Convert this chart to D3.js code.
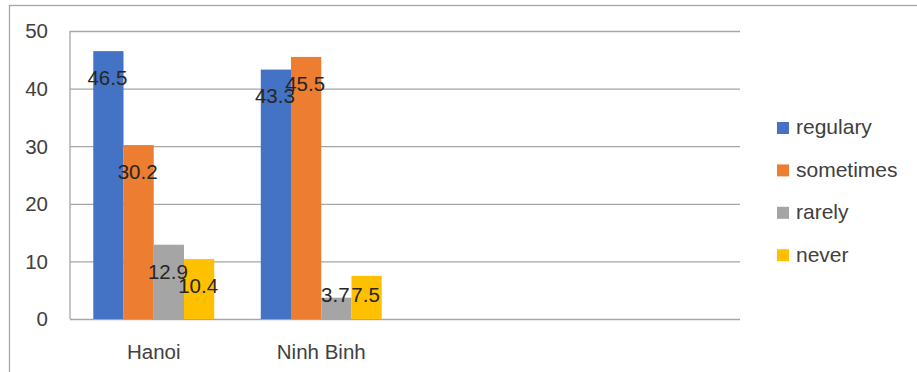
<!DOCTYPE html>
<html>
<head>
<meta charset="utf-8">
<script src="https://cdn.jsdelivr.net/npm/d3@7"></script>
<style>
  body { margin: 0; background: #fff; }
  svg { display: block; font-family: "Liberation Sans", Arial, sans-serif; }
</style>
</head>
<body>
<div id="chart"></div>
<script>
// data
var categories = ['Hanoi', 'Ninh Binh', '', ''];
var series = ['regulary', 'sometimes', 'rarely', 'never'];
var colors = ['#4472C4', '#ED7D31', '#A5A5A5', '#FFC000'];
var regulary = [46.5, 43.3, null, null];
var sometimes = [30.2, 45.5, null, null];
var rarely = [12.9, 3.7, null, null];
var never = [10.4, 7.5, null, null];
var yTicks = [0, 10, 20, 30, 40, 50];

var values = [regulary, sometimes, rarely, never];

var width = 917, height = 372;
var margin = {top: 31, left: 70, right: 177, bottom: 53};

var svg = d3.select('#chart').append('svg')
    .attr('width', width)
    .attr('height', height);

// chart frame, cut off at right and bottom like the screenshot
svg.append('rect')
    .attr('x', 9.5)
    .attr('y', 5.5)
    .attr('width', 930)
    .attr('height', 400)
    .attr('fill', 'none')
    .attr('stroke', '#a6a6a6')
    .attr('stroke-width', 1.3);

var x0 = d3.scaleBand()
    .domain(d3.range(categories.length))
    .range([margin.left, width - margin.right])
    .paddingInner(0)
    .paddingOuter(0);

var x1 = d3.scaleBand()
    .domain(d3.range(series.length))
    .range([0, x0.bandwidth()])
    .paddingInner(0)
    .paddingOuter(0.77);

var y = d3.scaleLinear()
    .domain([0, 50])
    .range([height - margin.bottom, margin.top]);

// gridlines
var grid = svg.append('g')
    .attr('transform', 'translate(' + margin.left + ',0)')
    .call(d3.axisLeft(y).tickValues(yTicks).tickSize(-(width - margin.right - margin.left)).tickFormat(''));
grid.select('.domain').remove();
grid.selectAll('line')
    .attr('stroke', '#a6a6a6')
    .attr('stroke-width', 1.3);

// y axis labels
svg.selectAll('.ylab')
    .data(yTicks)
    .enter().append('text')
        .attr('class', 'ylab')
        .attr('x', 48)
        .attr('y', d => y(d))
        .attr('dy', '0.36em')
        .attr('text-anchor', 'end')
        .attr('fill', '#404040')
        .style('font-size', '20.5px')
        .text(d => d);

// vertical axis line
svg.append('line')
    .attr('x1', margin.left)
    .attr('x2', margin.left)
    .attr('y1', y(50))
    .attr('y2', y(0))
    .attr('stroke', '#a6a6a6')
    .attr('stroke-width', 1.3);

// bars
var groups = svg.selectAll('.cat')
    .data(categories)
    .enter().append('g')
        .attr('class', 'cat')
        .attr('transform', (d, i) => 'translate(' + x0(i) + ',0)');

groups.each(function(c, ci) {
    var g = d3.select(this);
    var rows = series.map((s, si) => ({si: si, v: values[si][ci]})).filter(d => d.v != null);

    g.selectAll('rect')
        .data(rows)
        .enter().append('rect')
            .attr('x', d => x1(d.si))
            .attr('y', d => y(d.v))
            .attr('width', x1.bandwidth())
            .attr('height', d => y(0) - y(d.v))
            .attr('fill', d => colors[d.si]);

    g.selectAll('.lbl')
        .data(rows)
        .enter().append('text')
            .attr('class', 'lbl')
            .attr('x', d => x1(d.si) + x1.bandwidth() / 2 - 1)
            .attr('y', d => Math.min(y(d.v) + 26.5, y(0) - 24))
            .attr('dy', '0.36em')
            .attr('text-anchor', 'middle')
            .attr('fill', '#262626')
            .style('font-size', '20.5px')
            .text(d => d.v);
});

// category labels
svg.selectAll('.xlab')
    .data(categories)
    .enter().append('text')
        .attr('class', 'xlab')
        .attr('x', (d, i) => x0(i) + x0.bandwidth() / 2)
        .attr('y', 359)
        .attr('text-anchor', 'middle')
        .attr('fill', '#404040')
        .style('font-size', '20.5px')
        .text(d => d);

// legend
var legend = svg.selectAll('.legendItem')
    .data(series)
    .enter().append('g')
        .attr('class', 'legendItem')
        .attr('transform', (d, i) => 'translate(777,' + (128 + i * 42.4) + ')');

legend.append('rect')
    .attr('x', 0)
    .attr('y', -6)
    .attr('width', 12)
    .attr('height', 12)
    .attr('fill', (d, i) => colors[i]);

legend.append('text')
    .attr('x', 19)
    .attr('y', 0)
    .attr('dy', '0.3em')
    .attr('fill', '#404040')
    .style('font-size', '21px')
    .text(d => d);
</script>
</body>
</html>
